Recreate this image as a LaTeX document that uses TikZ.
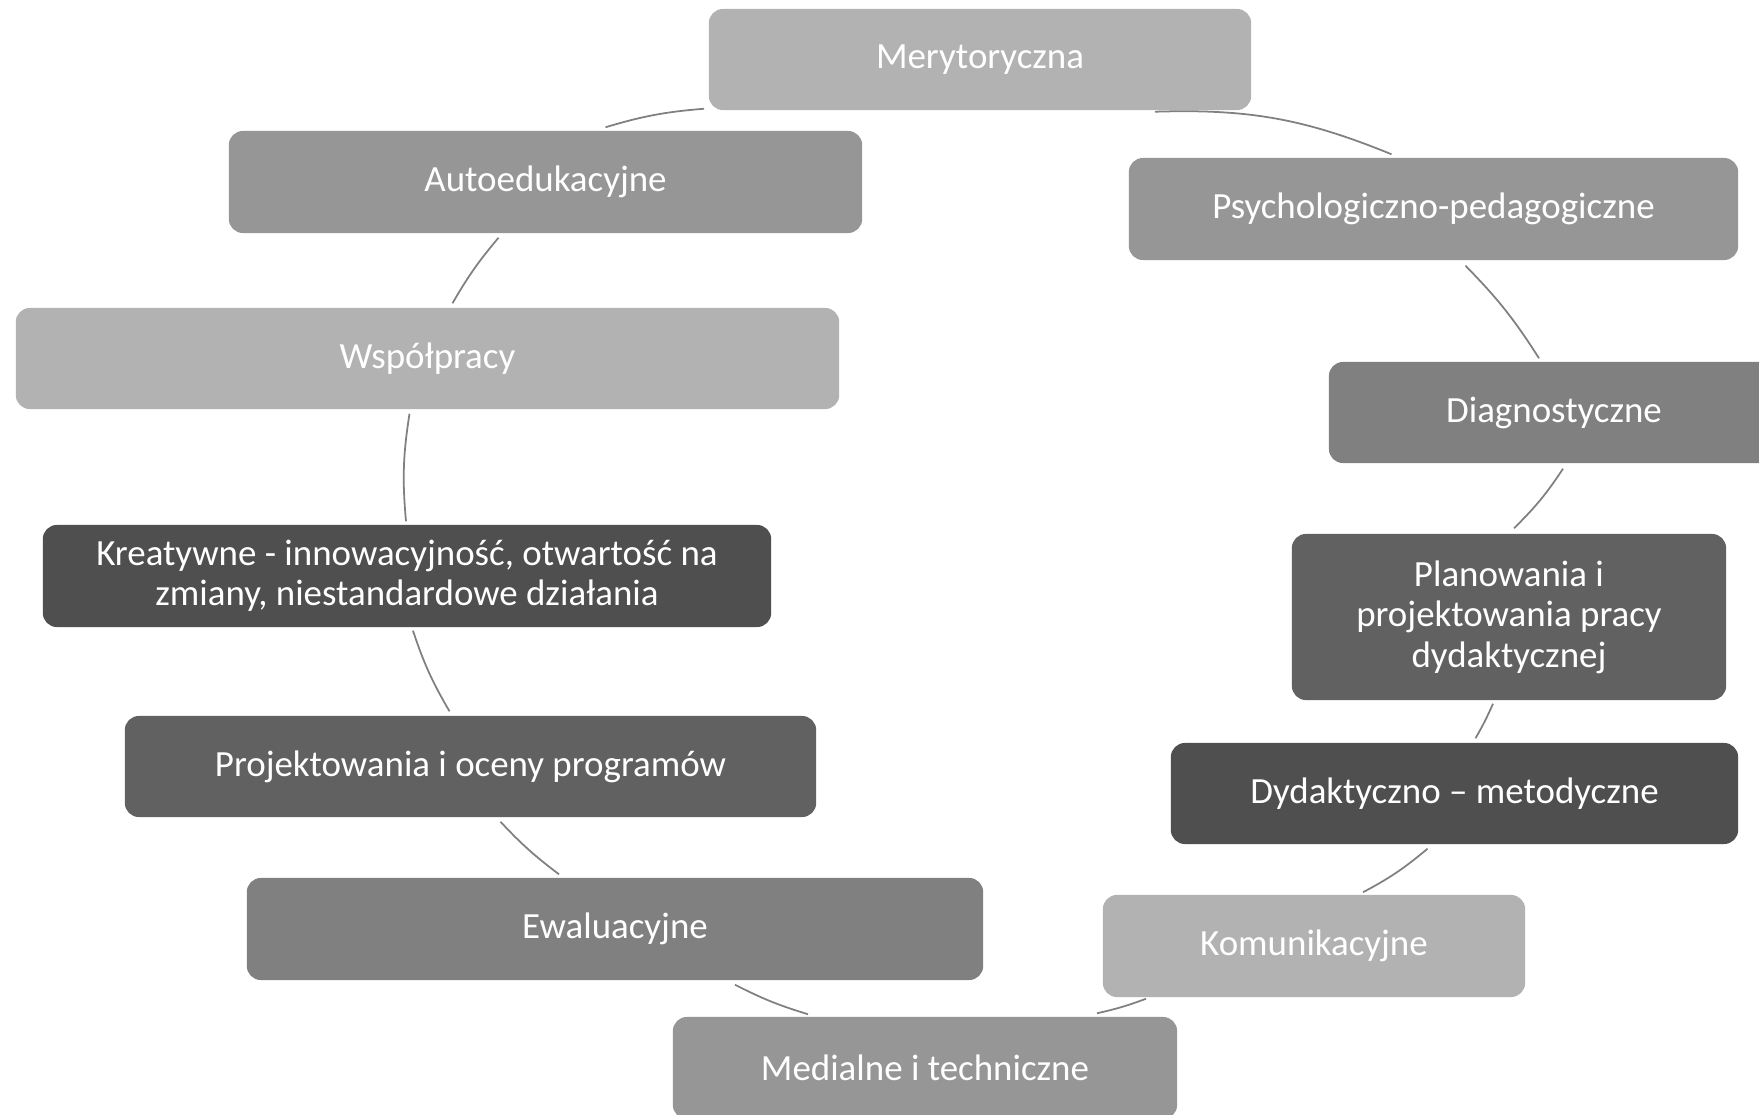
\documentclass[tikz,border=0pt]{standalone}
\usepackage{fontspec}
\setmainfont{Carlito}
\usetikzlibrary{calc}

\begin{document}
\begin{tikzpicture}[x=0.01cm, y=-0.01cm, font=\fontsize{10.5}{11.5}\selectfont,
  box/.style={rounded corners=4pt, text=white, align=center, inner sep=0pt},
  link/.style={draw=black!50, line width=0.5pt}]
\clip (0,0) rectangle (1759,1115);
\fill[white] (0,0) rectangle (1759,1115);
% boxes
\node[box, fill=black!30, minimum width=5.42cm, minimum height=1.01cm] (mer) at (980,59.5) {Merytoryczna};
\node[box, fill=black!41, minimum width=6.09cm, minimum height=1.02cm] (psych) at (1433.5,209) {Psychologiczno-pedagogiczne};
\node[box, fill=black!50, minimum width=4.50cm, minimum height=1.01cm] (diag) at (1554,412.5) {Diagnostyczne};
\node[box, fill=black!62, minimum width=4.34cm, minimum height=1.66cm] (plan) at (1509,617) {Planowania i\\projektowania pracy\\dydaktycznej};
\node[box, fill=black!69, minimum width=5.67cm, minimum height=1.01cm] (dyd) at (1454.5,793.5) {Dydaktyczno -- metodyczne};
\node[box, fill=black!30, minimum width=4.22cm, minimum height=1.02cm] (kom) at (1314,946) {Komunikacyjne};
\node[box, fill=black!41, minimum width=5.04cm, minimum height=1.02cm] (med) at (925,1068) {Medialne i techniczne};
\node[box, fill=black!50, minimum width=7.36cm, minimum height=1.02cm] (ewal) at (615,929) {Ewaluacyjne};
\node[box, fill=black!62, minimum width=6.91cm, minimum height=1.01cm] (proj) at (470.5,766.5) {Projektowania i oceny programów};
\node[box, fill=black!69, minimum width=7.28cm, minimum height=1.02cm] (kreat) at (407,576) {Kreatywne - innowacyjność, otwartość na\\zmiany, niestandardowe działania};
\node[box, fill=black!30, minimum width=8.23cm, minimum height=1.01cm] (wsp) at (427.5,358.5) {Współpracy};
\node[box, fill=black!41, minimum width=6.33cm, minimum height=1.02cm] (auto) at (545.5,182) {Autoedukacyjne};
% arcs between boxes, clockwise
\draw[link] ($(mer.south)+(175,1)$) to[bend left=12] ($(psych.north)+(-42,-3)$);
\draw[link] ($(psych.south)+(32,5)$) to[bend left=6] ($(diag.north)+(-15,-3)$);
\draw[link] ($(diag.south)+(9,5)$) to[bend left=6] ($(plan.north)+(5,-5)$);
\draw[link] ($(plan.south)+(-16,3)$) to[bend left=3] ($(dyd.north)+(21,-4)$);
\draw[link] ($(dyd.south)+(-27,4)$) to[bend left=6] ($(kom.north)+(49,-2)$);
\draw[link] ($(kom.south)+(-168,1)$) to[bend left=4] ($(med.north)+(172,-3)$);
\draw[link] ($(med.north)+(-117,-2)$) to[bend left=5] ($(ewal.south)+(120,4)$);
\draw[link] ($(ewal.north)+(-56,-3)$) to[bend left=5] ($(proj.south)+(30,4)$);
\draw[link] ($(proj.north)+(-21,-4)$) to[bend left=6] ($(kreat.south)+(6,3)$);
\draw[link] ($(kreat.north)+(-1,-3)$) to[bend left=7] ($(wsp.south)+(-18,4)$);
\draw[link] ($(wsp.north)+(25,-4)$) to[bend left=5] ($(auto.south)+(-47,4)$);
\draw[link] ($(auto.north)+(60,-3)$) to[bend left=6] ($(mer.south west)+(-4,-2)$);
\end{tikzpicture}
\end{document}
